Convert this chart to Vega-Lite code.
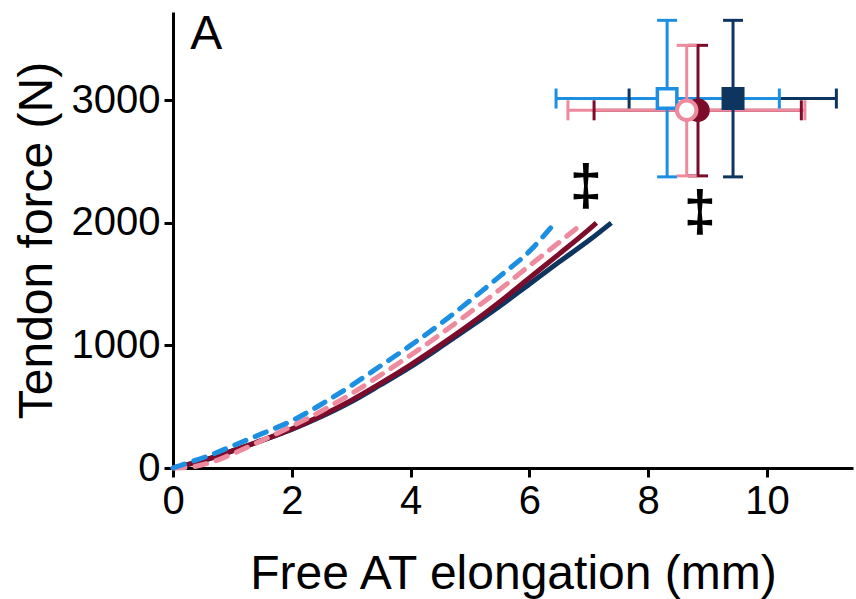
{
  "$schema": "https://vega.github.io/schema/vega-lite/v6.json",
  "autosize": "none",
  "width": 680,
  "height": 456,
  "padding": {"left": 173, "top": 12, "right": 3, "bottom": 131},
  "background": "white",
  "config": {
    "view": {"stroke": null},
    "axis": {
      "grid": false,
      "domainColor": "black",
      "domainWidth": 3,
      "tickColor": "black",
      "tickWidth": 3,
      "tickSize": 9,
      "labelFont": "Liberation Sans",
      "labelFontSize": 40,
      "labelColor": "black",
      "labelFlush": false,
      "labelOverlap": false,
      "labelPadding": 4,
      "titleFont": "Liberation Sans",
      "titleFontSize": 48,
      "titleFontWeight": "normal",
      "titleColor": "black"
    }
  },
  "datasets": {
    "curves": [
      {"series": "navy", "x": 0, "y": 0}, {"series": "navy", "x": 0.5, "y": 60}, {"series": "navy", "x": 1, "y": 140}, {"series": "navy", "x": 1.5, "y": 225}, {"series": "navy", "x": 2, "y": 315}, {"series": "navy", "x": 2.5, "y": 420}, {"series": "navy", "x": 3, "y": 540}, {"series": "navy", "x": 3.5, "y": 680}, {"series": "navy", "x": 4, "y": 825}, {"series": "navy", "x": 4.5, "y": 985}, {"series": "navy", "x": 5, "y": 1150}, {"series": "navy", "x": 5.5, "y": 1320}, {"series": "navy", "x": 6, "y": 1500}, {"series": "navy", "x": 6.5, "y": 1680}, {"series": "navy", "x": 7, "y": 1855}, {"series": "navy", "x": 7.38, "y": 2000},
      {"series": "maroon", "x": 0, "y": 0}, {"series": "maroon", "x": 0.5, "y": 60}, {"series": "maroon", "x": 1, "y": 140}, {"series": "maroon", "x": 1.5, "y": 225}, {"series": "maroon", "x": 2, "y": 318}, {"series": "maroon", "x": 2.5, "y": 428}, {"series": "maroon", "x": 3, "y": 552}, {"series": "maroon", "x": 3.5, "y": 692}, {"series": "maroon", "x": 4, "y": 842}, {"series": "maroon", "x": 4.5, "y": 1002}, {"series": "maroon", "x": 5, "y": 1172}, {"series": "maroon", "x": 5.5, "y": 1355}, {"series": "maroon", "x": 6, "y": 1550}, {"series": "maroon", "x": 6.5, "y": 1745}, {"series": "maroon", "x": 7, "y": 1945}, {"series": "maroon", "x": 7.13, "y": 2000},
      {"series": "pink", "x": 0, "y": 0}, {"series": "pink", "x": 0.3, "y": 8}, {"series": "pink", "x": 0.6, "y": 40}, {"series": "pink", "x": 1, "y": 115}, {"series": "pink", "x": 1.5, "y": 225}, {"series": "pink", "x": 2, "y": 340}, {"series": "pink", "x": 2.5, "y": 465}, {"series": "pink", "x": 3, "y": 605}, {"series": "pink", "x": 3.5, "y": 760}, {"series": "pink", "x": 4, "y": 920}, {"series": "pink", "x": 4.5, "y": 1090}, {"series": "pink", "x": 5, "y": 1270}, {"series": "pink", "x": 5.5, "y": 1455}, {"series": "pink", "x": 6, "y": 1650}, {"series": "pink", "x": 6.5, "y": 1840}, {"series": "pink", "x": 6.91, "y": 2000},
      {"series": "blue", "x": 0, "y": 0}, {"series": "blue", "x": 0.3, "y": 50}, {"series": "blue", "x": 0.6, "y": 100}, {"series": "blue", "x": 1.1, "y": 200}, {"series": "blue", "x": 1.5, "y": 280}, {"series": "blue", "x": 2, "y": 385}, {"series": "blue", "x": 2.5, "y": 520}, {"series": "blue", "x": 3, "y": 672}, {"series": "blue", "x": 3.5, "y": 835}, {"series": "blue", "x": 4, "y": 1000}, {"series": "blue", "x": 4.5, "y": 1175}, {"series": "blue", "x": 5, "y": 1365}, {"series": "blue", "x": 5.5, "y": 1563}, {"series": "blue", "x": 6, "y": 1767}, {"series": "blue", "x": 6.43, "y": 2000}
    ],
    "bars": [
      {"group": "navy", "x": 9.43, "y": 3014, "xlo": 7.68, "xhi": 11.17, "ylo": 2375, "yhi": 3652},
      {"group": "blue", "x": 8.32, "y": 3014, "xlo": 6.45, "xhi": 10.21, "ylo": 2375, "yhi": 3652},
      {"group": "maroon", "x": 8.84, "y": 2918, "xlo": 7.09, "xhi": 10.58, "ylo": 2383, "yhi": 3448},
      {"group": "pink", "x": 8.65, "y": 2918, "xlo": 6.65, "xhi": 10.64, "ylo": 2383, "yhi": 3448}
    ],
    "marks": [
      {"x": 6.95, "y": 2283, "label": "‡"},
      {"x": 8.87, "y": 2071, "label": "‡"}
    ],
    "panel": [
      {"x": 0.29, "y": 3420, "label": "A"}
    ]
  },
  "encoding": {
    "x": {"type": "quantitative"},
    "y": {"type": "quantitative"}
  },
  "layer": [
    {
      "data": {"name": "curves"},
      "transform": [{"filter": "datum.series === 'navy' || datum.series === 'maroon'"}],
      "mark": {"type": "line", "strokeWidth": 5, "interpolate": "monotone"},
      "encoding": {
        "x": {"field": "x", "type": "quantitative", "scale": {"domain": [0, 11.45], "nice": false, "zero": false},
              "axis": {"values": [0, 2, 4, 6, 8, 10], "format": "d", "title": "Free AT elongation (mm)", "titlePadding": 29}},
        "y": {"field": "y", "type": "quantitative", "scale": {"domain": [0, 3720], "nice": false, "zero": false},
              "axis": {"values": [0, 1000, 2000, 3000], "format": "d", "title": "Tendon force (N)", "titlePadding": 10}},
        "color": {"field": "series", "type": "nominal", "legend": null,
                  "scale": {"domain": ["navy", "blue", "maroon", "pink"], "range": ["#0E3560", "#1C8FE3", "#7C0C2A", "#EE8A9E"]}},
        "order": {"field": "series", "sort": "descending"}
      }
    },
    {
      "data": {"name": "curves"},
      "transform": [{"filter": "datum.series === 'pink' || datum.series === 'blue'"}],
      "mark": {"type": "line", "strokeWidth": 5, "strokeDash": [12, 10], "strokeCap": "round", "interpolate": "monotone"},
      "encoding": {
        "x": {"field": "x", "type": "quantitative"},
        "y": {"field": "y", "type": "quantitative"},
        "color": {"field": "series", "type": "nominal", "legend": null}
      }
    },
    {
      "data": {"name": "bars"},
      "mark": {"type": "rule", "strokeWidth": 3},
      "encoding": {
        "x": {"field": "xlo", "type": "quantitative"},
        "x2": {"field": "xhi"},
        "y": {"field": "y", "type": "quantitative"},
        "color": {"field": "group", "type": "nominal", "legend": null}
      }
    },
    {
      "data": {"name": "bars"},
      "mark": {"type": "rule", "strokeWidth": 3},
      "encoding": {
        "x": {"field": "x", "type": "quantitative"},
        "y": {"field": "ylo", "type": "quantitative"},
        "y2": {"field": "yhi"},
        "color": {"field": "group", "type": "nominal", "legend": null}
      }
    },
    {
      "data": {"name": "bars"},
      "mark": {"type": "tick", "orient": "horizontal", "size": 20, "thickness": 3, "opacity": 1},
      "encoding": {
        "x": {"field": "x", "type": "quantitative"},
        "y": {"field": "ylo", "type": "quantitative"},
        "color": {"field": "group", "type": "nominal", "legend": null}
      }
    },
    {
      "data": {"name": "bars"},
      "mark": {"type": "tick", "orient": "horizontal", "size": 20, "thickness": 3, "opacity": 1},
      "encoding": {
        "x": {"field": "x", "type": "quantitative"},
        "y": {"field": "yhi", "type": "quantitative"},
        "color": {"field": "group", "type": "nominal", "legend": null}
      }
    },
    {
      "data": {"name": "bars"},
      "mark": {"type": "tick", "orient": "vertical", "size": 20, "thickness": 3, "opacity": 1},
      "encoding": {
        "x": {"field": "xlo", "type": "quantitative"},
        "y": {"field": "y", "type": "quantitative"},
        "color": {"field": "group", "type": "nominal", "legend": null}
      }
    },
    {
      "data": {"name": "bars"},
      "mark": {"type": "tick", "orient": "vertical", "size": 20, "thickness": 3, "opacity": 1},
      "encoding": {
        "x": {"field": "xhi", "type": "quantitative"},
        "y": {"field": "y", "type": "quantitative"},
        "color": {"field": "group", "type": "nominal", "legend": null}
      }
    },
    {
      "data": {"name": "bars"},
      "transform": [{"filter": "datum.group === 'navy' || datum.group === 'blue'"}],
      "mark": {"type": "point", "shape": "square", "size": 380, "strokeWidth": 3.5, "opacity": 1, "filled": false},
      "encoding": {
        "x": {"field": "x", "type": "quantitative"},
        "y": {"field": "y", "type": "quantitative"},
        "stroke": {"field": "group", "type": "nominal", "legend": null,
                   "scale": {"domain": ["navy", "blue", "maroon", "pink"], "range": ["#0E3560", "#1C8FE3", "#7C0C2A", "#EE8A9E"]}},
        "fill": {"field": "group", "type": "nominal", "legend": null,
                 "scale": {"domain": ["navy", "blue", "maroon", "pink"], "range": ["#0E3560", "#ffffff", "#7C0C2A", "#ffffff"]}}
      }
    },
    {
      "data": {"name": "bars"},
      "transform": [{"filter": "datum.group === 'maroon' || datum.group === 'pink'"}],
      "mark": {"type": "point", "shape": "circle", "size": 380, "strokeWidth": 4, "opacity": 1, "filled": false},
      "encoding": {
        "x": {"field": "x", "type": "quantitative"},
        "y": {"field": "y", "type": "quantitative"},
        "stroke": {"field": "group", "type": "nominal", "legend": null},
        "fill": {"field": "group", "type": "nominal", "legend": null}
      }
    },
    {
      "data": {"name": "marks"},
      "mark": {"type": "text", "font": "Liberation Sans", "fontSize": 58, "fontWeight": "bold", "baseline": "middle", "align": "center", "color": "black"},
      "encoding": {
        "x": {"field": "x", "type": "quantitative"},
        "y": {"field": "y", "type": "quantitative"},
        "text": {"field": "label"}
      }
    },
    {
      "data": {"name": "panel"},
      "mark": {"type": "text", "font": "Liberation Sans", "fontSize": 48, "baseline": "alphabetic", "align": "left", "color": "black"},
      "encoding": {
        "x": {"field": "x", "type": "quantitative"},
        "y": {"field": "y", "type": "quantitative"},
        "text": {"field": "label"}
      }
    }
  ]
}
